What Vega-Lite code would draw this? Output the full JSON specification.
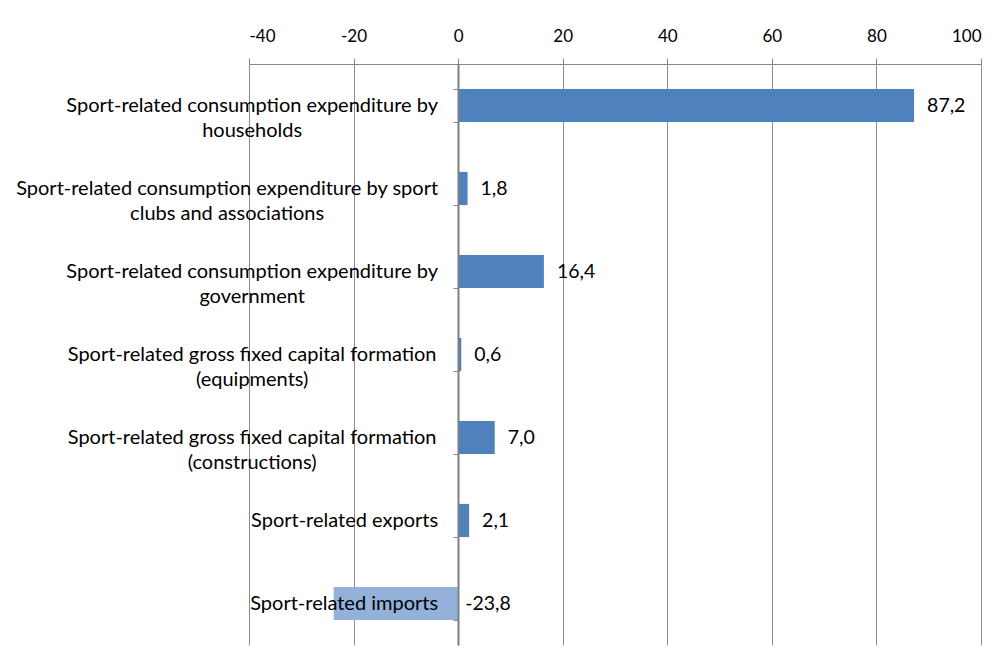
{
  "$schema": "https://vega.github.io/schema/vega-lite/v6.json",
  "autosize": {"type": "none"},
  "width": 732,
  "height": 581,
  "padding": {"left": 249, "top": 64, "right": 27, "bottom": 16},
  "background": "white",
  "config": {
    "locale": {"number": {"decimal": ",", "thousands": ".", "grouping": [3], "currency": ["", " €"], "minus": "-"}},
    "view": {"stroke": null},
    "font": "Lato",
    "text": {"font": "Lato", "fontSize": 20, "color": "#000000"}
  },
  "data": {
    "values": [
      {"category": "Sport-related consumption expenditure by households", "label": "Sport-related consumption expenditure by\nhouseholds", "value": 87.2},
      {"category": "Sport-related consumption expenditure by sport clubs and associations", "label": "Sport-related consumption expenditure by sport\nclubs and associations", "value": 1.8},
      {"category": "Sport-related consumption expenditure by government", "label": "Sport-related consumption expenditure by\ngovernment", "value": 16.4},
      {"category": "Sport-related gross fixed capital formation (equipments)", "label": "Sport-related gross fixed capital formation\n(equipments)", "value": 0.6},
      {"category": "Sport-related gross fixed capital formation (constructions)", "label": "Sport-related gross fixed capital formation\n(constructions)", "value": 7.0},
      {"category": "Sport-related exports", "label": "Sport-related exports", "value": 2.1},
      {"category": "Sport-related imports", "label": "Sport-related imports", "value": -23.8}
    ]
  },
  "encoding": {
    "y": {
      "field": "category",
      "type": "nominal",
      "sort": null,
      "scale": {"paddingInner": 0.6, "paddingOuter": 0.3},
      "axis": {
        "orient": "left",
        "offset": -209,
        "labels": false,
        "title": null,
        "tickBand": "extent",
        "tickSize": 5,
        "tickColor": "#868686",
        "domainColor": "#7F7F7F",
        "domainWidth": 2,
        "zindex": 1
      }
    }
  },
  "layer": [
    {
      "mark": {"type": "bar"},
      "encoding": {
        "x": {
          "field": "value",
          "type": "quantitative",
          "scale": {"domain": [-40, 100], "nice": false, "zero": true},
          "axis": {
            "orient": "top",
            "values": [-40, -20, 0, 20, 40, 60, 80, 100],
            "title": null,
            "grid": true,
            "gridColor": "#8C8C8C",
            "gridWidth": 1,
            "domainColor": "#868686",
            "tickColor": "#868686",
            "tickSize": 6,
            "labelFont": "Lato",
            "labelFontSize": 17,
            "labelColor": "#000000",
            "labelPadding": 13
          }
        },
        "color": {
          "condition": {"test": "datum.value < 0", "value": "#93B1D9"},
          "value": "#4F81BD"
        }
      }
    },
    {
      "transform": [{"filter": "datum.value >= 0"}],
      "mark": {"type": "text", "align": "left", "baseline": "middle", "dx": 13, "fontSize": 19.5},
      "encoding": {
        "x": {"field": "value", "type": "quantitative"},
        "text": {"field": "value", "type": "quantitative", "format": ".1f"}
      }
    },
    {
      "transform": [{"filter": "datum.value < 0"}],
      "mark": {"type": "text", "align": "left", "baseline": "middle", "dx": 7, "fontSize": 19.5},
      "encoding": {
        "x": {"datum": 0, "type": "quantitative"},
        "text": {"field": "value", "type": "quantitative", "format": ".1f"}
      }
    },
    {
      "transform": [{"filter": {"field": "category", "oneOf": ["Sport-related consumption expenditure by households", "Sport-related consumption expenditure by government", "Sport-related gross fixed capital formation (equipments)", "Sport-related gross fixed capital formation (constructions)"]}}],
      "mark": {"type": "text", "align": "center", "baseline": "middle", "lineBreak": "\n", "lineHeight": 25, "dx": -206},
      "encoding": {
        "x": {"datum": 0, "type": "quantitative"},
        "text": {"field": "label"}
      }
    },
    {
      "transform": [{"filter": {"field": "category", "equal": "Sport-related consumption expenditure by sport clubs and associations"}}],
      "mark": {"type": "text", "align": "center", "baseline": "middle", "lineBreak": "\n", "lineHeight": 25, "dx": -231},
      "encoding": {
        "x": {"datum": 0, "type": "quantitative"},
        "text": {"field": "label"}
      }
    },
    {
      "transform": [{"filter": {"field": "category", "oneOf": ["Sport-related exports", "Sport-related imports"]}}],
      "mark": {"type": "text", "align": "right", "baseline": "middle", "dx": -20},
      "encoding": {
        "x": {"datum": 0, "type": "quantitative"},
        "text": {"field": "label"}
      }
    }
  ]
}
